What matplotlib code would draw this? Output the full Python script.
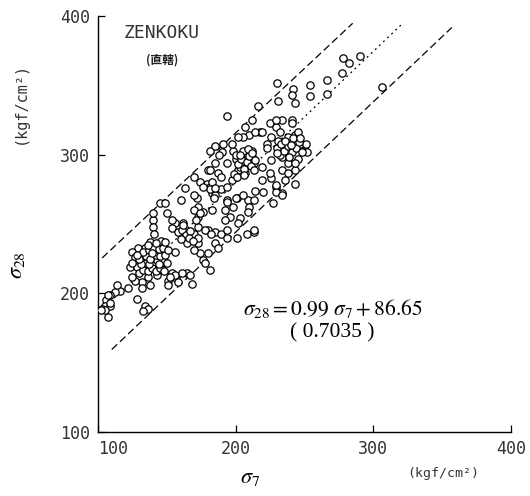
import matplotlib
matplotlib.use("Agg")
import matplotlib.pyplot as plt

plt.rcParams["mathtext.fontset"] = "stix"

# scatter points (sigma_7, sigma_28) in kgf/cm2
sigma7 = [
    278, 282, 290, 277, 266, 254, 254, 266, 243, 242, 306, 241, 230, 231, 241, 216, 194, 212, 225, 234,
    229, 207, 218, 210, 232, 191, 205, 223, 243, 237, 247, 250, 181, 190, 198,
    229, 241, 214, 219, 226, 238, 245, 243, 202, 197, 188, 185, 180, 187, 174, 179, 172, 183, 189, 197,
    202, 207, 213, 219, 226, 234, 238, 243, 245, 234, 226, 219, 236, 229, 234, 214, 201, 194, 209, 243,
    207, 200, 194, 212, 223, 230, 231,
    185, 194, 200, 205, 220, 229, 227, 213, 210, 209, 198, 192, 196, 192, 203, 202, 183, 173, 173, 173,
    180, 185, 189, 194, 201, 208, 213, 185, 187, 173, 174, 180, 176, 181, 170,
    163, 170, 181, 189, 145, 149, 176, 140, 140, 156, 162, 178, 173, 141, 146, 138, 129, 125, 161, 165,
    170, 156, 178, 165, 154, 157, 151, 123, 128, 134, 141, 146, 143, 136, 132, 127, 125, 132, 138, 122,
    116, 112, 109, 106, 105, 109, 103, 107, 128, 134, 136, 133, 151, 168, 140, 154, 150, 154, 127, 125,
    132, 134,
    160, 170, 184, 194, 203, 212, 194, 213, 182, 174,
    229, 234, 251, 243, 238, 225, 252,
    156, 158, 152, 161, 167, 105, 102, 109, 107, 114,
    130, 133, 136, 139, 142, 145, 148, 131, 137, 143, 147, 150, 130, 135, 138, 142, 145, 149, 133, 137,
    140, 144, 147, 151, 136, 142, 149, 128, 139, 144,
    158, 161, 164, 167, 160, 166, 169,
    199, 202, 204, 206, 208, 210, 211, 214, 200, 205, 209, 213, 201, 206, 203, 212,
    232, 235, 238, 241, 244, 246, 239, 233, 236, 242, 248, 230, 247, 240,
    185, 181, 183, 181, 185, 170, 176, 162, 171,
]
sigma28 = [
    370, 366, 371, 359, 354, 350, 342, 344, 337, 347, 349, 325, 352, 339, 343, 335, 328, 325, 323, 325,
    320, 320, 316, 314, 316, 308, 313, 308, 314, 310, 308, 303, 303, 302, 303,
    325, 323, 316, 316, 313, 313, 316, 310, 313, 308, 300, 294, 289, 287, 280, 279, 269, 272, 284, 282,
    289, 287, 294, 291, 296, 298, 294, 289, 297, 289, 283, 282, 282, 277, 272, 274, 269, 267, 267, 279,
    301, 297, 294, 303, 305, 305, 310,
    271, 266, 269, 271, 273, 273, 265, 267, 262, 259, 262, 260, 255, 253, 254, 251, 260, 262, 255, 248,
    246, 244, 243, 240, 240, 243, 244, 236, 233, 236, 229, 229, 224, 217, 243,
    276, 271, 277, 275, 265, 265, 259, 253, 248, 251, 251, 246, 240, 243, 238, 237, 233, 230, 240, 236,
    231, 230, 222, 215, 215, 211, 209, 219, 219, 222, 222, 219, 213, 212, 208, 209, 212, 204, 206, 204,
    202, 201, 199, 195, 191, 191, 189, 183, 196, 191, 189, 187, 206, 207, 258, 253, 258, 247, 226, 222,
    226, 233,
    267, 260, 269, 277, 291, 298, 246, 246, 243, 258,
    278, 271, 308, 294, 287, 287, 302,
    213, 208, 212, 215, 213, 188, 188, 193, 199, 206,
    215, 217, 216, 218, 216, 218, 216, 221, 221, 224, 223, 222, 225, 227, 225, 228, 227, 228, 230, 231,
    233, 232, 233, 231, 235, 236, 237, 228, 229, 221,
    244, 246, 242, 245, 239, 240, 238,
    286, 293, 297, 290, 295, 299, 292, 296, 300, 303, 304, 289, 284, 285, 300, 301,
    300, 303, 306, 302, 305, 309, 298, 308, 310, 312, 302, 301, 312, 307,
    306, 289, 280, 275, 276, 284, 277, 249, 253,
]

# regression line and the two band lines: (x range, slope, value at x = 100)
mid_x = [100, 321]
mid_a, mid_b = 0.945, 185.5
upper_x = [103, 285]
upper_a, upper_b = 0.93, 222.7
lower_x = [110, 357]
lower_a, lower_b = 0.94, 150.1

xticks = [100, 200, 300, 400]
yticks = [100, 200, 300, 400]

W, H = 530, 496


def fx(px):
    return px / W


def fy(py):
    return 1 - py / H


fig = plt.figure(figsize=(W / 100, H / 100), dpi=100)
fig.patch.set_facecolor("white")
ax = fig.add_axes([fx(98), fy(432), (511 - 98) / W, (432 - 16) / H])

ax.scatter(sigma7, sigma28, s=28, facecolors="white", edgecolors="black",
           linewidths=0.9, zorder=3)

for xs, a, b, dash in [(upper_x, upper_a, upper_b, (6, 3)),
                       (mid_x, mid_a, mid_b, (1.5, 3)),
                       (lower_x, lower_a, lower_b, (6, 3))]:
    ys = [b + a * (x - 100) for x in xs]
    ax.plot(xs, ys, color="black", lw=0.9, dashes=dash, zorder=2)

ax.set_xlim(100, 400)
ax.set_ylim(100, 400)
ax.spines["top"].set_visible(False)
ax.spines["right"].set_visible(False)
for s in ("left", "bottom"):
    ax.spines[s].set_linewidth(1.0)

ax.set_xticks(xticks)
ax.set_yticks(yticks)
ax.set_xticklabels([str(t) for t in xticks], family="DejaVu Sans Mono", fontsize=12, color="#333")
ax.set_yticklabels([str(t) for t in yticks], family="DejaVu Sans Mono", fontsize=12, color="#333")
ax.get_xticklabels()[0].set_ha("left")
ax.tick_params(direction="in", length=5, width=0.9, pad=6)

# titles inside the plot
fig.text(fx(162), fy(33), "ZENKOKU", family="DejaVu Sans Mono", fontsize=13,
         ha="center", va="center", color="#333")
fig.text(fx(162), fy(60), "(直轄)", family=["Noto Sans CJK JP", "DejaVu Sans"], fontsize=8.5,
         ha="center", va="center", weight="bold", color="#222")

# regression equation
fig.text(fx(243), fy(309), r"$\sigma_{28} = 0.99\ \sigma_7 + 86.65$", fontsize=15.5,
         ha="left", va="center")
fig.text(fx(332), fy(333), "( 0.7035 )", family="Liberation Serif", fontsize=15.5,
         ha="center", va="center")

# axis labels
fig.text(fx(17), fy(265), r"$\sigma_{28}$", fontsize=16, rotation=90, ha="center", va="center")
fig.text(fx(20), fy(103), "(kgf/cm²)", family="DejaVu Sans Mono", fontsize=11,
         rotation=90, ha="center", va="center", color="#333")
fig.text(fx(250), fy(478), r"$\sigma_7$", fontsize=16, ha="center", va="center")
fig.text(fx(443), fy(474), "(kgf/cm²)", family="DejaVu Sans Mono", fontsize=9.5,
         ha="center", va="center", color="#333")

fig.savefig("out.png", dpi=100)
